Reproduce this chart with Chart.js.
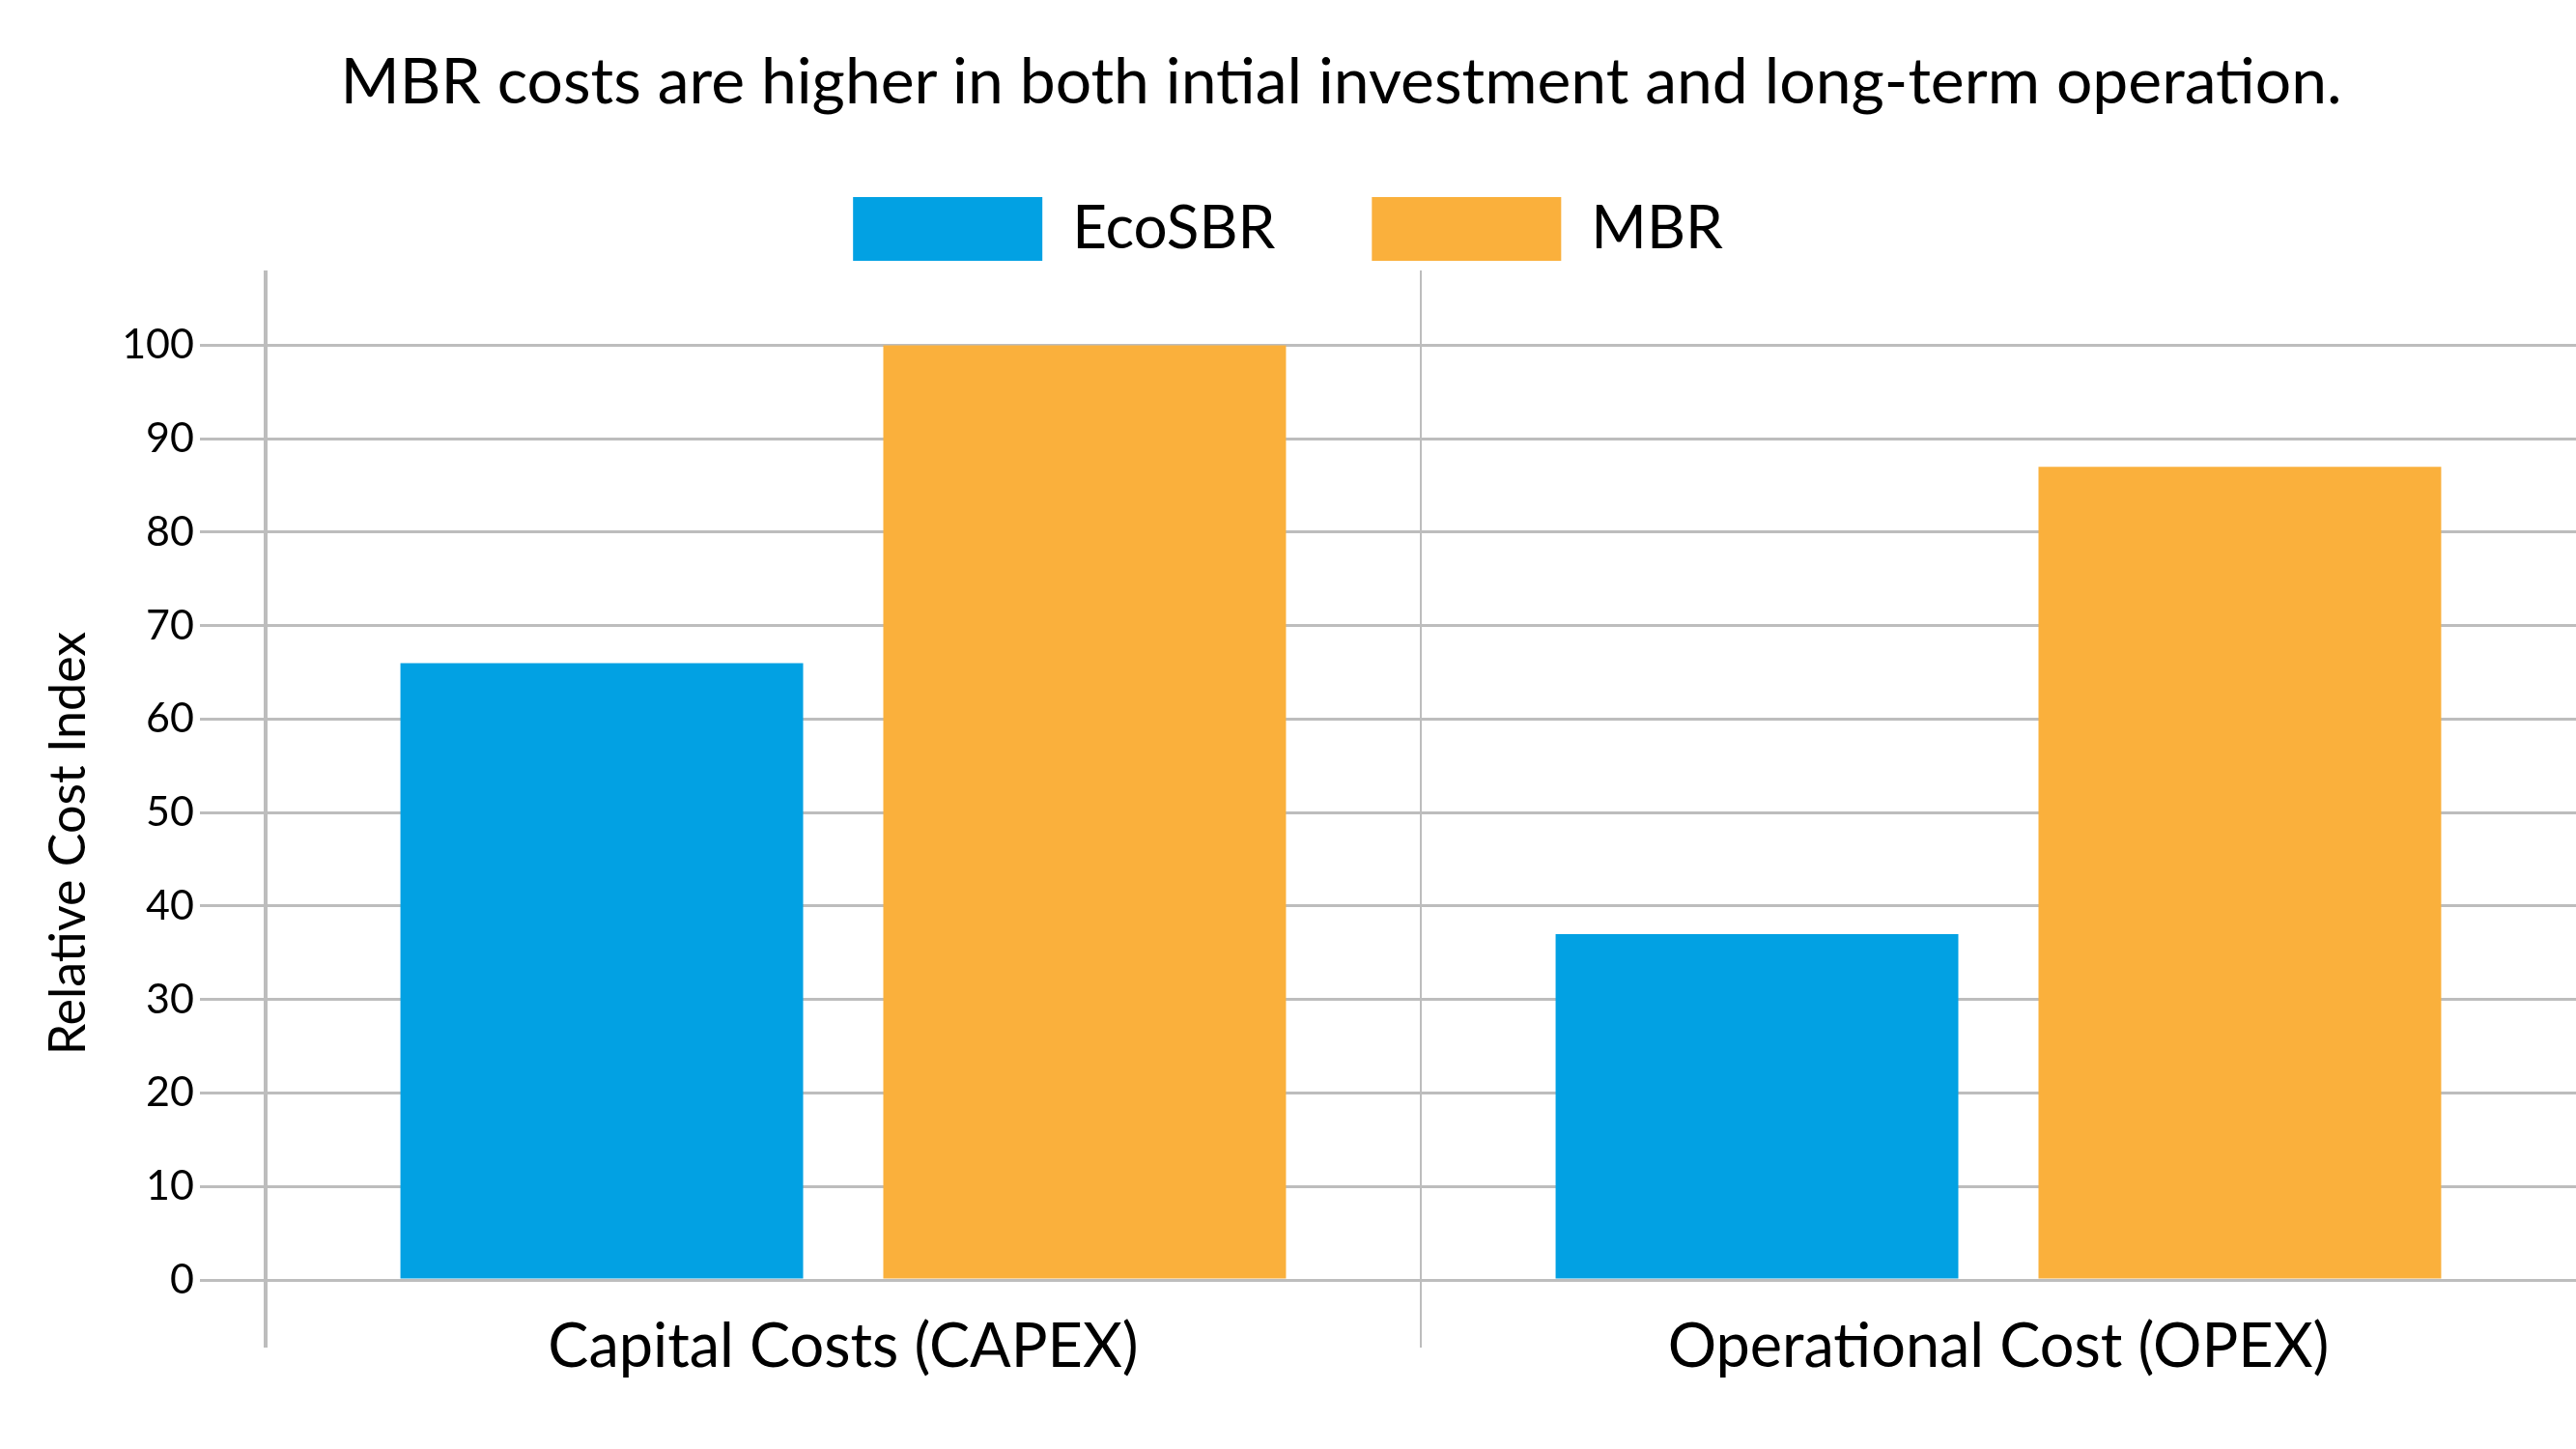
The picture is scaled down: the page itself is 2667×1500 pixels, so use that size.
<!DOCTYPE html>
<html><head><meta charset="utf-8">
<script src="https://cdn.jsdelivr.net/npm/chart.js@4"></script>
<style>
html,body{margin:0;padding:0;background:#fff}
#wrap{position:relative;width:2667px;height:1500px;overflow:hidden}
#title{position:absolute;left:110px;right:0;top:42px;text-align:center;font:66px Lato, sans-serif;color:#000;line-height:80px;white-space:nowrap}
#ytitle{position:absolute;left:69px;top:873px;width:800px;margin-left:-400px;margin-top:-32px;height:64px;line-height:64px;text-align:center;font:52px Lato, sans-serif;color:#000;transform:rotate(-90deg);white-space:nowrap}
canvas{position:absolute;left:0;top:0}
</style></head>
<body><div id="wrap"><canvas id="c" width="2667" height="1500"></canvas>
<div id="title"></div><div id="ytitle"></div></div>
<script>
const chartTitle = "MBR costs are higher in both intial investment and long-term operation.";
const categories = ["Capital Costs (CAPEX)", "Operational Cost (OPEX)"];
const seriesNames = ["EcoSBR", "MBR"];
const ecoSBR = [66, 37];
const mbr = [100, 87];
const yTicks = [0, 10, 20, 30, 40, 50, 60, 70, 80, 90, 100];
const yTitle = "Relative Cost Index";

document.getElementById('title').textContent = chartTitle;
document.getElementById('ytitle').textContent = yTitle;

const GRID = '#bdbdbd';
new Chart(document.getElementById('c'), {
  type: 'bar',
  data: {
    labels: categories,
    datasets: [
      {label: seriesNames[0], data: ecoSBR, backgroundColor: '#02a1e3', borderWidth: 0,
       categoryPercentage: 0.836, barPercentage: 0.834},
      {label: seriesNames[1], data: mbr, backgroundColor: '#fab03c', borderWidth: 0,
       categoryPercentage: 0.836, barPercentage: 0.834}
    ]
  },
  options: {
    responsive: false,
    animation: false,
    devicePixelRatio: 1,
    layout: {padding: {top: 104, left: 0, right: 0, bottom: 0}},
    plugins: {
      title: {display: false},
      tooltip: {enabled: false},
      legend: {
        position: 'top',
        labels: {boxWidth: 196, boxHeight: 66, padding: 100, color: '#000',
                 font: {family: 'Lato', size: 62}}
      }
    },
    scales: {
      x: {
        offset: true,
        border: {display: false},
        grid: {
          offset: true, drawOnChartArea: true, drawTicks: true, tickLength: 70,
          color: ctx => ctx.index === undefined ? 'rgba(0,0,0,0)' : GRID,
          lineWidth: ctx => ctx.index === 0 ? 4 : 2
        },
        ticks: {color: '#000', font: {family: 'Lato', size: 63}, padding: -38, maxRotation: 0},
        afterFit: s => { s.height = 175; }
      },
      y: {
        min: 0, max: 108,
        border: {display: false},
        grid: {color: GRID, lineWidth: 3, tickLength: 68},
        ticks: {stepSize: 10, color: '#000', font: {family: 'Lato', size: 43}, padding: 6},
        afterBuildTicks: s => { s.ticks = yTicks.map(v => ({value: v})); },
        title: {display: false},
        afterFit: s => { s.width = 275; }
      }
    }
  }
});
</script>
</body></html>
